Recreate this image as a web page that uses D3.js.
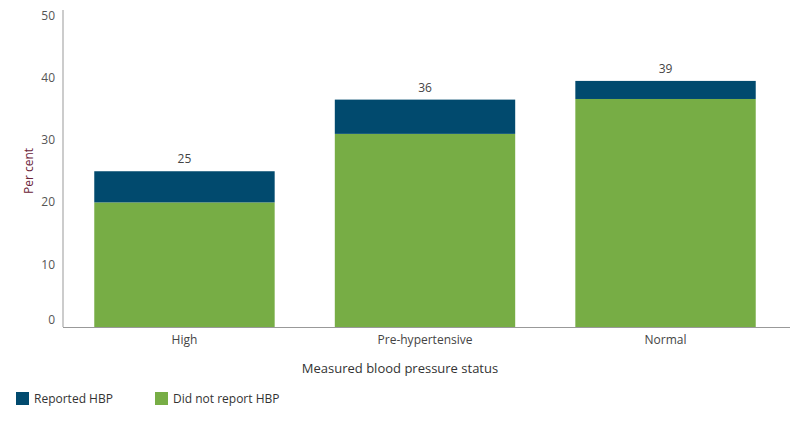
<!DOCTYPE html>
<html><head><meta charset="utf-8">
<script src="https://cdn.jsdelivr.net/npm/d3@7"></script>
<style>body{margin:0;background:#fff;font-family:"Open Sans",sans-serif;}</style>
</head><body><svg id="c" width="800" height="425"></svg>
<script>
const categories=["High","Pre-hypertensive","Normal"];
const notReported=[20,31,36.6];
const reported=[5,5.5,2.9];
const totalLabels=["25","36","39"];
const yTicks=[0,10,20,30,40,50];
const seriesNames=["Reported HBP","Did not report HBP"];
const colors=["#014a6e","#77ad45"];

const svg=d3.select("#c");
const x=d3.scaleBand().domain(categories).range([63,787]).paddingInner(0.25).paddingOuter(0.13);
const y=d3.scaleLinear().domain([0,50]).range([327,15.5]);

svg.append("line").attr("x1",63).attr("x2",63).attr("y1",10).attr("y2",327).attr("stroke","#999");
svg.append("line").attr("x1",63).attr("x2",790).attr("y1",327.5).attr("y2",327.5).attr("stroke","#999");
svg.selectAll(".yt").data(yTicks).join("text").attr("x",55).attr("y",d=>y(d)+(d===0?-3:4)).attr("text-anchor","end")
 .attr("font-size",12).attr("fill","#555").text(d=>d);

const g=svg.append("g");
categories.forEach((c,i)=>{
  g.append("rect").attr("x",x(c)).attr("width",x.bandwidth()).attr("y",y(notReported[i])).attr("height",y(0)-y(notReported[i])).attr("fill",colors[1]);
  g.append("rect").attr("x",x(c)).attr("width",x.bandwidth()).attr("y",y(notReported[i]+reported[i])).attr("height",y(notReported[i])-y(notReported[i]+reported[i])).attr("fill",colors[0]);
  g.append("text").attr("x",x(c)+x.bandwidth()/2).attr("y",y(notReported[i]+reported[i])-8).attr("text-anchor","middle").attr("font-size",12).attr("fill","#444").text(totalLabels[i]);
  g.append("text").attr("x",x(c)+x.bandwidth()/2).attr("y",344).attr("text-anchor","middle").attr("font-size",12).attr("fill","#444").text(c);
});
svg.append("text").attr("transform","translate(33,171) rotate(-90)").attr("text-anchor","middle").attr("font-size",12).attr("fill","#6b2338").text("Per cent");
svg.append("text").attr("x",400).attr("y",373).attr("text-anchor","middle").attr("font-size",13).attr("fill","#333").text("Measured blood pressure status");
const lx=[16,155];
seriesNames.forEach((s,i)=>{
  svg.append("rect").attr("x",lx[i]).attr("y",392).attr("width",13).attr("height",13).attr("fill",colors[i]);
  svg.append("text").attr("x",lx[i]+18).attr("y",403).attr("font-size",12).attr("fill","#333").text(s);
});
</script></body></html>
